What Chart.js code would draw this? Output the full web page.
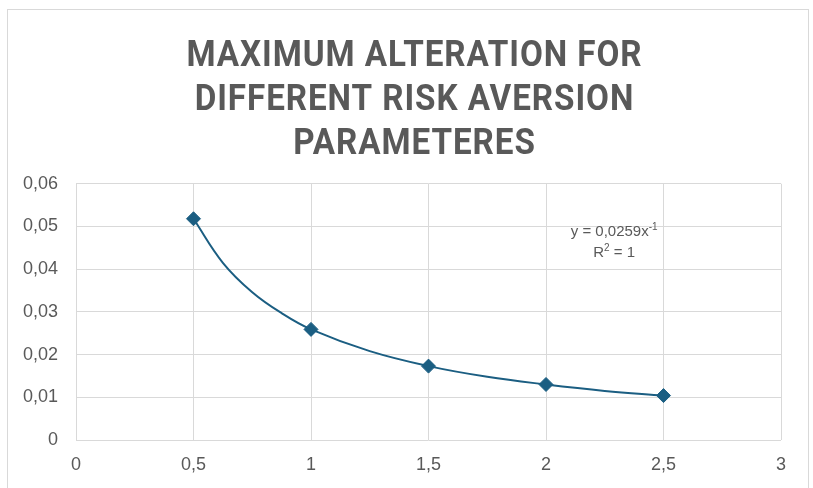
<!DOCTYPE html>
<html><head><meta charset="utf-8">
<script src="https://cdn.jsdelivr.net/npm/chart.js@4"></script>
<style>html,body{margin:0;padding:0;background:#fff;overflow:hidden}#wrap{position:relative;width:813px;height:488px}</style>
</head><body><div id="wrap"><canvas id="c" width="813" height="488"></canvas></div>
<script>
const titleLines = ['MAXIMUM ALTERATION FOR', 'DIFFERENT RISK AVERSION', 'PARAMETERES'];
// data points (markers)
const xValues = [0.5, 1, 1.5, 2, 2.5];
const yValues = [0.0518, 0.0259, 0.0173, 0.0130, 0.0104];
// trendline (positions along the drawn curve)
const trendX = [0.5, 0.625, 0.75, 0.875, 1, 1.25, 1.5, 1.75, 2, 2.25, 2.5];
const trendY = [0.0518, 0.0415, 0.0346, 0.0297, 0.0259, 0.0208, 0.0173, 0.0148, 0.0130, 0.0115, 0.0104];
const xTicks = [0, 0.5, 1, 1.5, 2, 2.5, 3];
const yTicks = [0, 0.01, 0.02, 0.03, 0.04, 0.05, 0.06];
const eqMain = 'y = 0,0259x';
const eqSup = '-1';
const r2Main = 'R';
const r2Sup = '2';
const r2Rest = ' = 1';
const eqPos = {x: 2.29, y: 0.0466};

const GRAY = '#595959';
const GRID = '#d9d9d9';
const BLUE = '#1b5e82';
const TITLE_FONT = "Roboto, 'DejaVu Sans', sans-serif";
const TICK_FONT = "'Liberation Sans', Arial, sans-serif";
const TITLE_TARGET_W = 456;
const TITLE_CX = 414.5;

const fmt = v => {
  const r = Math.round(v * 100) / 100;
  if (r === 0) return '0';
  return String(r).replace('.', ',');
};

const borderPlugin = {
  id: 'outerBorder',
  beforeDraw(chart) {
    const ctx = chart.ctx;
    ctx.save();
    ctx.strokeStyle = GRID;
    ctx.lineWidth = 1;
    ctx.strokeRect(7.5, 9.5, 801, 500);
    ctx.restore();
    const tb = chart.titleBlock;
    if (tb && !tb._wrapped) {
      const orig = tb.draw;
      tb.draw = function (...a) {
        const c = chart.ctx;
        c.save();
        c.letterSpacing = '1px';
        c.font = 'bold 36px ' + TITLE_FONT;
        const w = c.measureText(titleLines[0]).width;
        const sx = Math.min(1, TITLE_TARGET_W / w);
        const cx = (this.left + this.right) / 2;
        c.translate(TITLE_CX, 0);
        c.scale(sx, 1);
        c.translate(-cx, 0);
        orig.apply(this, a);
        c.restore();
      };
      tb._wrapped = true;
    }
  }
};

const eqPlugin = {
  id: 'eqLabel',
  afterDatasetsDraw(chart) {
    const ctx = chart.ctx;
    const px = chart.scales.x.getPixelForValue(eqPos.x);
    const py = chart.scales.y.getPixelForValue(eqPos.y);
    ctx.save();
    ctx.fillStyle = GRAY;
    ctx.textBaseline = 'alphabetic';
    ctx.textAlign = 'left';
    const big = "15px " + TICK_FONT;
    const small = "10px " + TICK_FONT;
    ctx.font = big; const w1 = ctx.measureText(eqMain).width;
    ctx.font = small; const w2 = ctx.measureText(eqSup).width;
    let x0 = px - (w1 + w2) / 2;
    const b1 = py - 5;
    ctx.font = big; ctx.fillText(eqMain, x0, b1);
    ctx.font = small; ctx.fillText(eqSup, x0 + w1, b1 - 6);
    ctx.font = big; const a1 = ctx.measureText(r2Main).width; const a3 = ctx.measureText(r2Rest).width;
    ctx.font = small; const a2 = ctx.measureText(r2Sup).width;
    x0 = px - (a1 + a2 + a3) / 2;
    const b2 = py + 16;
    ctx.font = big; ctx.fillText(r2Main, x0, b2);
    ctx.font = small; ctx.fillText(r2Sup, x0 + a1, b2 - 6);
    ctx.font = big; ctx.fillText(r2Rest, x0 + a1 + a2, b2);
    ctx.restore();
  }
};

new Chart(document.getElementById('c'), {
  type: 'scatter',
  data: {
    datasets: [{
      label: 'points',
      data: xValues.map((x, i) => ({x, y: yValues[i]})),
      showLine: false,
      pointStyle: 'rectRot',
      pointRadius: 7,
      pointBorderWidth: 1,
      pointBorderColor: BLUE,
      pointBackgroundColor: BLUE
    }, {
      label: 'trend',
      data: trendX.map((x, i) => ({x, y: trendY[i]})),
      showLine: true,
      borderColor: BLUE,
      borderWidth: 2,
      tension: 0.4,
      pointRadius: 0
    }]
  },
  options: {
    responsive: false,
    devicePixelRatio: 1,
    animation: false,
    layout: {padding: {left: 0, right: 32, top: 0, bottom: 0}},
    plugins: {
      legend: {display: false},
      tooltip: {enabled: false},
      title: {
        display: true,
        text: titleLines,
        color: GRAY,
        font: {family: TITLE_FONT, size: 36, weight: 'bold', lineHeight: 1.22},
        padding: {top: 35, bottom: 17}
      }
    },
    scales: {
      x: {
        type: 'linear', min: 0, max: 3,
        afterBuildTicks(s) { s.ticks = xTicks.map(v => ({value: v})); },
        afterFit(s) { s.height = 48; },
        ticks: {color: GRAY, font: {family: TICK_FONT, size: 18}, padding: 14, callback: v => fmt(v)},
        grid: {color: GRID, lineWidth: 1, drawTicks: false},
        border: {display: false}
      },
      y: {
        type: 'linear', min: 0, max: 0.06,
        afterBuildTicks(s) { s.ticks = yTicks.map(v => ({value: v})); },
        afterFit(s) { s.width = 76; },
        ticks: {color: GRAY, font: {family: TICK_FONT, size: 18}, padding: 18, callback: v => fmt(v)},
        grid: {color: GRID, lineWidth: 1, drawTicks: false},
        border: {display: false}
      }
    }
  },
  plugins: [borderPlugin, eqPlugin]
});
</script></body></html>
